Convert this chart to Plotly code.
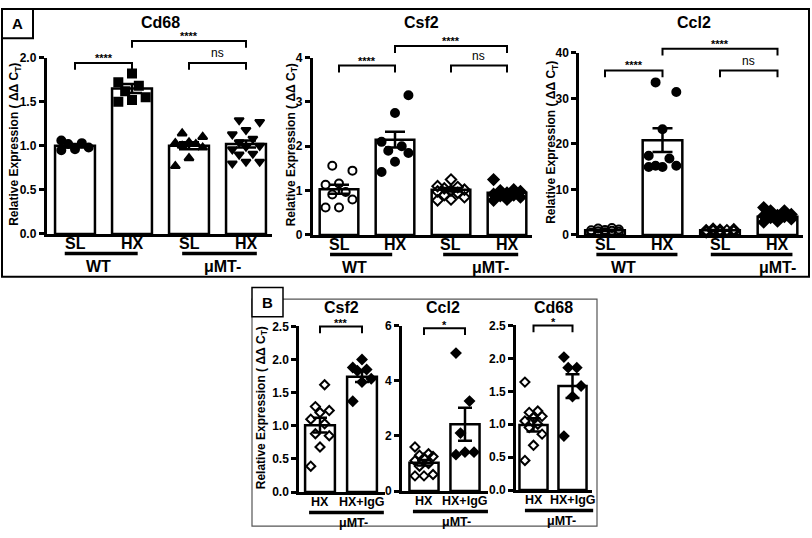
import plotly.graph_objects as go

W, H = 812, 538
FONT = 'Liberation Sans'

# Data
groups_a = ['SL', 'HX', 'SL', 'HX']
strains_a = ['WT', 'μMT-']
groups_b = ['HX', 'HX+IgG']
strains_b = ['μMT-']

# Panel A - Cd68
cd68_wt_sl = [1.06, 0.96, 0.95, 0.98, 1.02, 1.03]
cd68_wt_hx = [1.82, 1.72, 1.68, 1.55, 1.50, 1.52, 1.62]
cd68_mu_sl = [1.14, 1.10, 1.02, 1.00, 0.98, 1.03, 0.86, 0.77, 1.04]
cd68_mu_hx = [1.27, 1.29, 1.18, 1.13, 1.08, 1.04, 1.00, 0.99, 0.96, 0.91, 0.90, 0.82, 0.82, 0.80]
cd68_mean = [1.00, 1.65, 1.00, 1.02]
cd68_sem = [0.02, 0.05, 0.04, 0.04]

# Panel A - Csf2
csf2_wt_sl = [1.45, 1.56, 1.16, 1.13, 0.97, 0.91, 0.80, 0.62, 0.62]
csf2_wt_hx = [3.15, 2.75, 2.10, 2.00, 1.85, 1.90, 1.65, 1.42]
csf2_mu_sl = [1.25, 1.10, 1.08, 1.05, 1.02, 1.00, 0.98, 0.95, 0.90, 0.85, 0.80, 0.78]
csf2_mu_hx = [1.25, 1.02, 1.00, 0.98, 0.95, 0.92, 0.90, 0.88, 0.85, 0.80, 0.78]
csf2_mean = [1.03, 2.15, 1.02, 0.95]
csf2_sem = [0.10, 0.18, 0.04, 0.04]

# Panel A - Ccl2
ccl2_wt_sl = [0.5, 0.7, 0.9, 1.0, 1.2, 1.4, 1.5, 0.8, 1.1, 0.6]
ccl2_wt_hx = [31.4, 33.5, 23.2, 17.4, 16.8, 15.2, 14.9, 14.9, 15.2]
ccl2_mu_sl = [0.6, 0.8, 0.9, 1.0, 1.1, 1.2, 1.3, 0.7, 1.0]
ccl2_mu_hx = [6.0, 5.3, 5.3, 4.5, 4.2, 4.0, 3.5, 3.0, 2.8, 3.8, 4.3]
ccl2_mean = [1.0, 20.8, 1.0, 4.0]
ccl2_sem = [0.15, 2.6, 0.1, 0.35]

# Panel B - Csf2, Ccl2, Cd68 (uMT- mice)
b_csf2_hx = [1.62, 1.23, 1.20, 1.29, 1.10, 1.03, 0.88, 0.85, 0.68, 0.39]
b_csf2_igg = [2.00, 1.88, 1.85, 1.83, 1.71, 1.66, 1.37]
b_csf2_mean = [1.01, 1.74]
b_csf2_sem = [0.11, 0.08]

b_ccl2_hx = [1.6, 1.35, 1.3, 1.25, 1.2, 1.1, 1.0, 0.9, 0.6, 0.55, 0.55]
b_ccl2_igg = [5.0, 3.26, 2.1, 1.41, 1.32, 1.41]
b_ccl2_mean = [1.03, 2.42]
b_ccl2_sem = [0.10, 0.60]

b_cd68_hx = [1.64, 1.20, 1.18, 1.12, 1.10, 1.05, 1.00, 0.95, 0.85, 0.68, 0.45]
b_cd68_igg = [2.02, 1.86, 1.86, 1.58, 1.42, 0.82]
b_cd68_mean = [0.99, 1.58]
b_cd68_sem = [0.10, 0.18]

sym_a1 = ['circle', 'square', 'triangle-up', 'triangle-down']
sym_a2 = ['circle-open', 'circle', 'diamond-open', 'diamond']
sym_b = ['diamond-open', 'diamond']

ytitle = 'Relative Expression ( ΔΔ C<sub>T</sub>)'

panels = [
    dict(name='Cd68', pts=[cd68_wt_sl, cd68_wt_hx, cd68_mu_sl, cd68_mu_hx], mean=cd68_mean, sem=cd68_sem,
         sym=sym_a1, labels=groups_a, strains=strains_a, c0=75, s=57, xr=[-0.5, 3.45], bw=0.7,
         zero=233, ppu=90.5, ytop=2.0, dtick=0.5, fmt='.1f',
         stats=[(0, 1, '****', 1.94), (1, 3, '****', 2.19), (2, 3, 'ns', 1.94)],
         spans=[(-0.18, 1.1), (1.88, 3.19)], slab=[0.42, 2.58], tx=1.5, ytx=15, big=True),
    dict(name='Csf2', pts=[csf2_wt_sl, csf2_wt_hx, csf2_mu_sl, csf2_mu_hx], mean=csf2_mean, sem=csf2_sem,
         sym=sym_a2, labels=groups_a, strains=strains_a, c0=339, s=56, xr=[-0.47, 3.45], bw=0.69,
         zero=234, ppu=45.5, ytop=4, dtick=1, fmt='d',
         stats=[(0, 1, '****', 3.82), (1, 3, '****', 4.26), (2, 3, 'ns', 3.82)],
         spans=[(-0.16, 0.95), (1.86, 3.2)], slab=[0.27, 2.7], tx=1.48, ytx=292, big=True),
    dict(name='Ccl2', pts=[ccl2_wt_sl, ccl2_wt_hx, ccl2_mu_sl, ccl2_mu_hx], mean=ccl2_mean, sem=ccl2_sem,
         sym=sym_a2, labels=groups_a, strains=strains_a, c0=605, s=57.5, xr=[-0.45, 3.45], bw=0.69,
         zero=234, ppu=4.675, ytop=40, dtick=10, fmt='d',
         stats=[(0, 1, '****', 36.1), (1, 3, '****', 40.9), (2, 3, 'ns', 36.1)],
         spans=[(-0.15, 1.26), (1.84, 3.26)], slab=[0.32, 3.0], tx=1.54, ytx=552, big=True),
    dict(name='Csf2', pts=[b_csf2_hx, b_csf2_igg], mean=b_csf2_mean, sem=b_csf2_sem,
         sym=sym_b, labels=groups_b, strains=strains_b, c0=320, s=42, xr=[-0.5, 1.55], bw=0.71,
         zero=498, ppu=68, ytop=2.5, dtick=0.5, fmt='.1f',
         stats=[(0, 1, '***', 2.5)],
         spans=[(-0.26, 1.52)], slab=[0.79], tx=0.52, ytx=262, big=False),
    dict(name='Ccl2', pts=[b_ccl2_hx, b_ccl2_igg], mean=b_ccl2_mean, sem=b_ccl2_sem,
         sym=sym_b, labels=groups_b, strains=strains_b, c0=424, s=41, xr=[-0.54, 1.56], bw=0.71,
         zero=497, ppu=28.33, ytop=6, dtick=2, fmt='d',
         stats=[(0, 1, '*', 5.9)],
         spans=[(-0.27, 1.56)], slab=[0.8], tx=0.46, ytx=None, big=False),
    dict(name='Cd68', pts=[b_cd68_hx, b_cd68_igg], mean=b_cd68_mean, sem=b_cd68_sem,
         sym=sym_b, labels=groups_b, strains=strains_b, c0=533.5, s=39, xr=[-0.45, 1.5], bw=0.72,
         zero=496, ppu=67.6, ytop=2.5, dtick=0.5, fmt='.1f',
         stats=[(0, 1, '*', 2.5)],
         spans=[(-0.22, 1.53)], slab=[0.73], tx=0.5, ytx=None, big=False),
]


def spread(vals, half):
    # spread points sideways so equal values do not sit on top of each other
    order = sorted(range(len(vals)), key=lambda i: vals[i])
    pattern = [-1, 0, 1, -0.5, 0.5]
    offs = [0.0] * len(vals)
    for rank, i in enumerate(order):
        offs[i] = pattern[rank % 5] * half
    return offs


def font(size, weight='bold'):
    return dict(family=FONT, size=size, color='black', weight=weight)


def label(x, y, text, f, **kw):
    # paper-positioned text, always centred on (x, y)
    d = dict(x=x, y=y, xref='paper', yref='paper', text=text, showarrow=False,
             xanchor='center', yanchor='middle', font=f)
    d.update(kw)
    return d


fig = go.Figure()
layout_axes = {}
shapes = []
annos = []
Ypx = lambda px: 1 - px / H

for k, p in enumerate(panels, start=1):
    xa, ya = f'x{k}', f'y{k}'
    X = lambda v, p=p: (p['c0'] + v * p['s']) / W
    Y = lambda v, p=p: 1 - (p['zero'] - v * p['ppu']) / H
    n = len(p['mean'])
    xs = list(range(n))
    big = p['big']

    fig.add_trace(go.Bar(x=xs, y=p['mean'], width=p['bw'],
                         marker=dict(color='white', line=dict(color='black', width=2.5)),
                         xaxis=xa, yaxis=ya, showlegend=False, hoverinfo='skip'))
    for i, vals in enumerate(p['pts']):
        offs = spread(vals, 0.24 if big else 0.22)
        fig.add_trace(go.Scatter(x=[i + o for o in offs], y=vals, mode='markers',
                                 marker=dict(symbol=p['sym'][i], size=8 if big else 7, color='black',
                                             line=dict(color='black', width=2)),
                                 xaxis=xa, yaxis=ya, showlegend=False, cliponaxis=False))
    fig.add_trace(go.Scatter(x=xs, y=p['mean'], mode='markers',
                             marker=dict(size=1, color='rgba(0,0,0,0)'),
                             error_y=dict(type='data', array=p['sem'], color='black',
                                          thickness=2.5, width=10 if big else 7),
                             xaxis=xa, yaxis=ya, showlegend=False))

    layout_axes[f'xaxis{k}'] = dict(
        domain=[X(p['xr'][0]), X(p['xr'][1])], range=p['xr'], anchor=ya,
        showline=True, linecolor='black', linewidth=2.5, ticks='', showticklabels=False,
        showgrid=False, zeroline=False, fixedrange=True)
    yt = [j * p['dtick'] for j in range(int(round(p['ytop'] / p['dtick'])) + 1)]
    layout_axes[f'yaxis{k}'] = dict(
        domain=[Y(0), Y(p['ytop'])], range=[0, p['ytop']], anchor=xa,
        showline=True, linecolor='black', linewidth=2.5, ticks='outside', ticklen=5,
        tickwidth=2.5, tickcolor='black', tickvals=yt, tickformat=p['fmt'],
        tickfont=font(12), showgrid=False, zeroline=False, fixedrange=True)

    # category labels under the bars
    for i, lab in enumerate(p['labels']):
        annos.append(label(X(i), Ypx(p['zero'] + 10), lab, font(16 if big else 12.5)))

    # significance brackets
    drop = 7 / p['ppu']
    for a, b, lab, lvl in p['stats']:
        shapes.append(dict(type='path', xref='paper', yref='paper',
                           path=f"M {X(a)},{Y(lvl - drop)} L {X(a)},{Y(lvl)} L {X(b)},{Y(lvl)} L {X(b)},{Y(lvl - drop)}",
                           line=dict(color='black', width=2)))
        if lab == 'ns':
            annos.append(label((X(a) + X(b)) / 2, Y(lvl) + 1 / H, lab, font(12, 'normal'), yanchor='bottom'))
        else:
            # asterisks sit high in their text box, so the box is dropped a little
            annos.append(label((X(a) + X(b)) / 2, Y(lvl) - (3 if big else 5) / H, lab, font(11),
                               yanchor='bottom'))

    # group underline and strain label
    for (s0, s1), lab, cx in zip(p['spans'], p['strains'], p['slab']):
        ly = p['zero'] + (20 if big else 21)
        shapes.append(dict(type='line', xref='paper', yref='paper', x0=X(s0), x1=X(s1),
                           y0=Ypx(ly), y1=Ypx(ly), line=dict(color='black', width=3.5)))
        annos.append(label(X(cx), Ypx(ly + (13 if big else 11)), lab, font(16 if big else 12.5)))

    # gene title
    annos.append(label(X(p['tx']), Ypx(16 if big else 309), p['name'], font(16)))

    # y-axis title
    if p['ytx'] is not None:
        cy = p['zero'] - p['ytop'] * p['ppu'] / 2 - 1
        annos.append(label(p['ytx'] / W, Ypx(cy), ytitle, font(12), textangle=-90))

# panel frames and letters
shapes.append(dict(type='rect', xref='paper', yref='paper', x0=2 / W, x1=809 / W, y0=1 - 277 / H, y1=1 - 2 / H,
                   line=dict(color='black', width=2)))
shapes.append(dict(type='rect', xref='paper', yref='paper', x0=2 / W, x1=33 / W, y0=1 - 32 / H, y1=1 - 2 / H,
                   line=dict(color='black', width=2)))
shapes.append(dict(type='rect', xref='paper', yref='paper', x0=252 / W, x1=597 / W, y0=1 - 533 / H, y1=1 - 300 / H,
                   line=dict(color='#555555', width=1.2)))
shapes.append(dict(type='rect', xref='paper', yref='paper', x0=252 / W, x1=283 / W, y0=1 - 318 / H, y1=1 - 288 / H,
                   line=dict(color='black', width=1.5), fillcolor='white'))
annos.append(label(17.5 / W, Ypx(17), 'A', font(15)))
annos.append(label(267.5 / W, Ypx(303), 'B', font(15)))

fig.update_layout(
    width=W, height=H,
    margin=dict(l=0, r=0, t=0, b=0),
    paper_bgcolor='white', plot_bgcolor='white',
    showlegend=False, barmode='overlay',
    shapes=shapes, annotations=annos,
    **layout_axes
)

# drop the default page margin so the 812x538 figure fills the window
fig.write_html("out.html", config={'displayModeBar': False},
               post_script="document.body.style.margin='0';")
